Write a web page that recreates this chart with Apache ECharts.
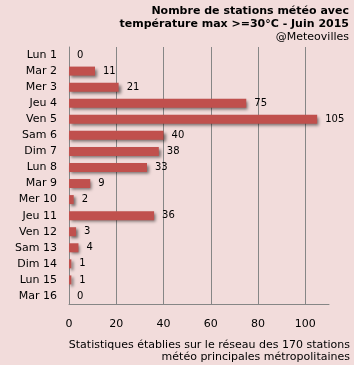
<!DOCTYPE html>
<html><head><meta charset="utf-8">
<script src="https://cdn.jsdelivr.net/npm/echarts@6/dist/echarts.min.js"></script>
<style>html,body{margin:0;padding:0;background:#fff}#c{width:354px;height:365px;background:#F2DCDB}</style>
</head><body><div id="c"></div>
<script>
const categories = ["Lun 1","Mar 2","Mer 3","Jeu 4","Ven 5","Sam 6","Dim 7","Lun 8","Mar 9","Mer 10","Jeu 11","Ven 12","Sam 13","Dim 14","Lun 15","Mar 16"];
const values = [0,11,21,75,105,40,38,33,9,2,36,3,4,1,1,0];
const titleLines = ["Nombre de stations météo avec","température max >=30°C - Juin 2015"];
const subtitle = "@Meteovilles";
const footerLines = ["Statistiques établies sur le réseau des 170 stations","météo principales métropolitaines"];
const font = "DejaVu Sans";
const chart = echarts.init(document.getElementById('c'), null, {renderer:'canvas'});
function txt(s, x, y, bold){
  return {type:'text', x:x, y:y, style:{text:s, textAlign:'right', textVerticalAlign:'middle', fill:'#000',
    font:(bold?'bold ':'')+'11px "'+font+'"'}};
}
chart.setOption({
  backgroundColor: '#F2DCDB',
  animation: false,
  textStyle: {fontFamily: font},
  graphic: [
    txt(titleLines[0], 349, 11, true),
    txt(titleLines[1], 349, 24, true),
    txt(subtitle, 349, 37, false),
    txt(footerLines[0], 350, 345, false),
    txt(footerLines[1], 350, 357, false)
  ],
  grid: {left: 69, right: 25, top: 47, bottom: 61, containLabel: false},
  xAxis: {type: 'value', min: 0, max: 110, interval: 20,
    axisLine: {show: true, lineStyle: {color: '#868686'}},
    axisTick: {show: false},
    axisLabel: {fontFamily: font, fontSize: 11, color: '#000', margin: 15, showMaxLabel: false},
    splitLine: {show: true, showMaxLine: false, lineStyle: {color: '#868686', width: 1}}},
  yAxis: {type: 'category', data: categories, inverse: true,
    axisLine: {show: true, lineStyle: {color: '#868686'}},
    axisTick: {show: false},
    axisLabel: {fontFamily: font, fontSize: 11, color: '#000', margin: 12}},
  series: [{type: 'bar', data: values, barWidth: 9,
    itemStyle: {color: '#C0504D', shadowColor: 'rgba(0,0,0,0.5)', shadowBlur: 3, shadowOffsetX: 2, shadowOffsetY: 2},
    label: {show: true, position: 'right', distance: 8, fontFamily: font, fontSize: 10, color: '#000'}}]
});
</script></body></html>
